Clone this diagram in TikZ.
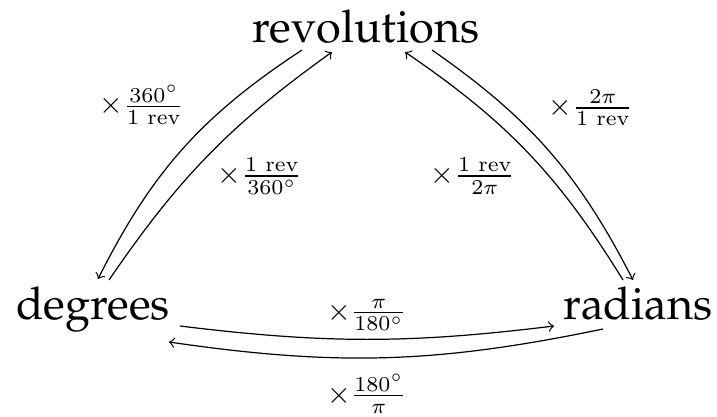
\documentclass[tikz,border=0pt]{standalone}
\usepackage{amsmath,amssymb}
\usepackage[T1,TU]{fontenc}
\usepackage{tikz}
\usetikzlibrary{arrows}
\usetikzlibrary{calc}
\newcommand{\palfont}{\fontencoding{T1}\fontfamily{ppl}\fontsize{14.9}{18}\selectfont}
\tikzstyle{unit}=[font=\palfont,inner sep=0pt,anchor=base]
\tikzstyle{conv}=[inner sep=1pt]
\tikzstyle{arr}=[->,line width=0.4pt]

\begin{document}
\begin{tikzpicture}[x=0.33pt,y=-0.33pt]
\useasboundingbox (0,0) rectangle (717,416);
\node[unit] at (366,42)(rev){revolutions};
\node[unit] at (93,319)(deg){degrees};
\node[unit] at (638,319)(rad){radians};

% revolutions and degrees
\draw[arr] ($(rev.base)+(-64,8)$) to [bend right=15] ($(deg.base)+(5,-40)$);
\draw[arr] ($(deg.base)+(16,-39)$) to [bend left=10] ($(rev.base)+(-34,10)$);
\node[conv] at (142,105)(revdeg){$\times\frac{360^\circ}{1\text{ rev}}$};
\node[conv] at (260,176)(degrev){$\times\frac{1\text{ rev}}{360^\circ}$};

% revolutions and radians
\draw[arr] ($(rev.base)+(66,8)$) to [bend left=14] ($(rad.base)+(-5,-39)$);
\draw[arr] ($(rad.base)+(-15,-39)$) to [bend right=12] ($(rev.base)+(39,10)$);
\node[conv] at (591,108)(revrad){$\times\frac{2\pi}{1\text{ rev}}$};
\node[conv] at (473,176)(radrev){$\times\frac{1\text{ rev}}{2\pi}$};

% degrees and radians
\draw[arr] ($(deg.base)+(87,7)$) to [bend right=7] ($(rad.base)+(-84,7)$);
\draw[arr] ($(rad.base)+(-35,10)$) to [bend left=10] ($(deg.base)+(76,23)$);
\node[conv] at (367,315)(degrad){$\times\frac{\pi}{180^\circ}$};
\node[conv] at (367,394)(raddeg){$\times\frac{180^\circ}{\pi}$};
\end{tikzpicture}
\end{document}
